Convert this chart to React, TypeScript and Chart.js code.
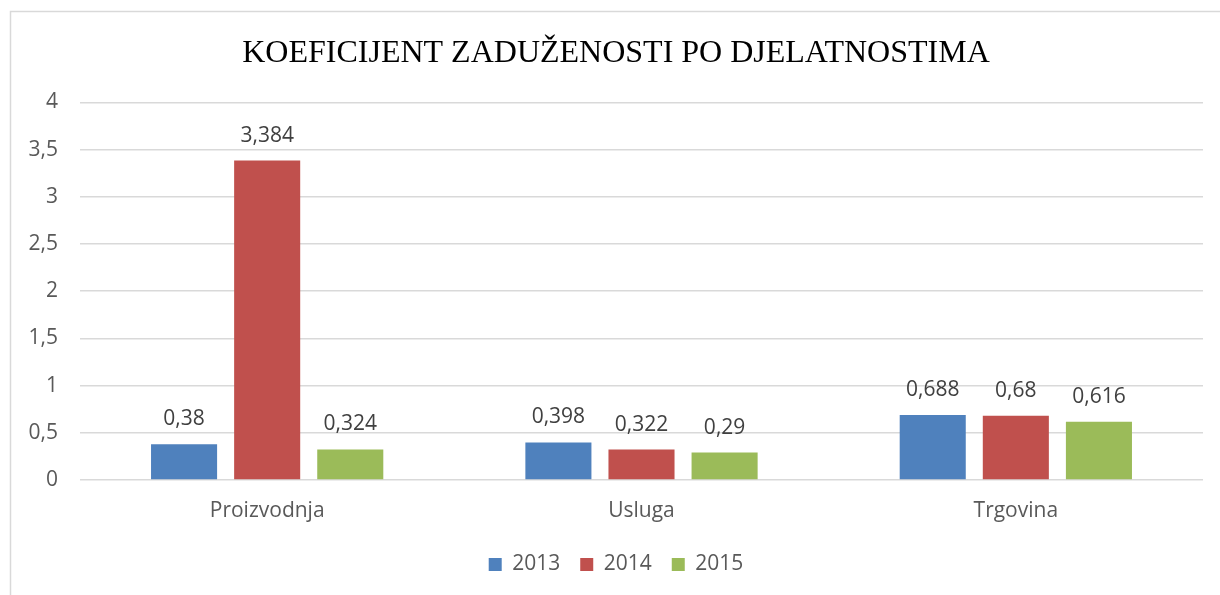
import React, { useEffect, useRef } from "react";
import { Chart, registerables } from "chart.js";

Chart.register(...registerables);

const categories = ["Proizvodnja", "Usluga", "Trgovina"];
const seriesNames = ["2013", "2014", "2015"];
const values2013 = [0.38, 0.398, 0.688];
const values2014 = [3.384, 0.322, 0.68];
const values2015 = [0.324, 0.29, 0.616];
const colors = ["#4F81BD", "#C0504D", "#9BBB59"];
const titleText = "KOEFICIJENT ZADUŽENOSTI PO DJELATNOSTIMA";

const FONT = "'Open Sans', Lato, sans-serif";

const fmt = (v: number) => String(v).replace(".", ",");

const frameBorder = {
  id: "frameBorder",
  beforeDraw(chart: any) {
    const ctx = chart.ctx;
    ctx.save();
    ctx.fillStyle = "#ffffff";
    ctx.fillRect(0, 0, chart.width, chart.height);
    ctx.strokeStyle = "#d9d9d9";
    ctx.lineWidth = 1.5;
    ctx.beginPath();
    ctx.moveTo(10.5, chart.height);
    ctx.lineTo(10.5, 11.5);
    ctx.lineTo(chart.width, 11.5);
    ctx.stroke();
    ctx.restore();
  },
};

const valueLabels = {
  id: "valueLabels",
  afterDatasetsDraw(chart: any) {
    const ctx = chart.ctx;
    ctx.save();
    ctx.font = `21px ${FONT}`;
    ctx.fillStyle = "#404040";
    ctx.textAlign = "center";
    ctx.textBaseline = "middle";
    chart.data.datasets.forEach((ds: any, i: number) => {
      const meta = chart.getDatasetMeta(i);
      meta.data.forEach((bar: any, j: number) => {
        ctx.fillText(fmt(ds.data[j]), bar.x, bar.y - 25);
      });
    });
    ctx.restore();
  },
};

export default function App() {
  const ref = useRef<HTMLCanvasElement | null>(null);
  useEffect(() => {
    if (!ref.current) return;
    const series = [values2013, values2014, values2015];
    const chart = new Chart(ref.current, {
      type: "bar",
      data: {
        labels: categories,
        datasets: series.map((d, i) => ({
          label: seriesNames[i],
          data: d,
          backgroundColor: colors[i],
          borderWidth: 0,
          categoryPercentage: 0.666,
          barPercentage: 0.795,
        })),
      },
      options: {
        animation: false,
        responsive: false,
        maintainAspectRatio: false,
        layout: { padding: { left: 29, right: 17, top: 0, bottom: 10 } },
        plugins: {
          title: {
            display: true,
            text: titleText,
            color: "#000000",
            font: { family: "'Liberation Serif', 'Times New Roman', serif", size: 32, weight: "normal" },
            padding: { top: 34, bottom: 30 },
          },
          legend: {
            position: "bottom",
            labels: {
              boxWidth: 13,
              boxHeight: 13,
              padding: 20,
              color: "#595959",
              font: { family: FONT, size: 21 },
            },
          },
          tooltip: { enabled: false },
        },
        scales: {
          x: {
            grid: { display: false, drawTicks: false },
            border: { display: false },
            ticks: { color: "#595959", font: { family: FONT, size: 21 }, padding: 18 },
            afterFit: (s: any) => { s.height = 54; },
          },
          y: {
            min: 0,
            max: 4,
            ticks: {
              stepSize: 0.5,
              color: "#595959",
              font: { family: FONT, size: 21 },
              padding: 22,
              callback: (v: any) => fmt(Number(v)),
            },
            grid: { color: "#d9d9d9", lineWidth: 1.5, drawTicks: false },
            border: { display: false },
            afterFit: (s: any) => { s.width = 51; },
          },
        },
      },
      plugins: [frameBorder, valueLabels],
    });
    return () => chart.destroy();
  }, []);
  return (
    <canvas
      ref={ref}
      width={1220}
      height={595}
      style={{ position: "fixed", left: 0, top: 0, width: 1220, height: 595 }}
    />
  );
}
